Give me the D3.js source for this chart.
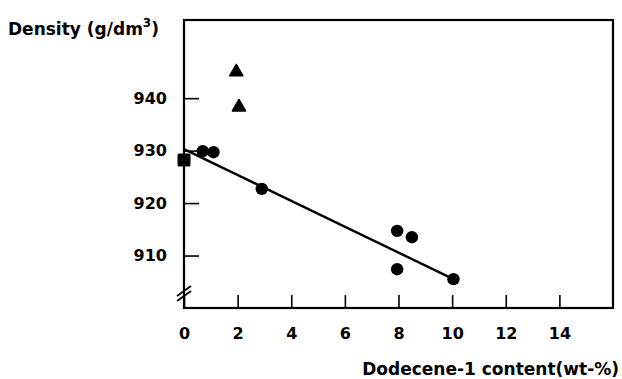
<html>
<head>
<script src="https://d3js.org/d3.v7.min.js"></script>
<style>
	body { margin: 0; background: white; }
	text { font-family: "DejaVu Sans", sans-serif; font-weight: bold; fill: black; }
</style>
</head>
<body>
<svg id="chart" width="622" height="379"></svg>
<script>

// Data
var circleX = [0.7, 1.1, 2.9, 7.95, 8.5, 7.95, 10.05];
var circleY = [929.9, 929.7, 922.7, 914.7, 913.5, 907.4, 905.5];
var triangleX = [1.95, 2.05];
var triangleY = [945.0, 938.3];
var squareX = [0];
var squareY = [928.2];
var fitX = [0, 10.05];
var fitY = [930.3, 905.5];
var xTicks = [0, 2, 4, 6, 8, 10, 12, 14];
var yTicks = [910, 920, 930, 940];

var svg = d3.select("#chart");

// Plot box
var mLeft = 184, mRight = 613, mTop = 20, mBottom = 308;

var x = d3.scaleLinear().domain([0, 16]).range([mLeft, mRight]);
var y = d3.scaleLinear().domain([900, 954.9]).range([mBottom, mTop]);

// Frame
svg.append("rect")
	.attr("x", mLeft).attr("y", mTop)
	.attr("width", mRight - mLeft).attr("height", mBottom - mTop)
	.style("fill", "none").style("stroke", "black").style("stroke-width", 2.2);

// X axis ticks (inward) and labels
svg.append("g")
	.attr("transform", "translate(0," + mBottom + ")")
	.call(d3.axisBottom(x).tickValues(xTicks).tickSize(-13).tickPadding(20).tickFormat(d3.format("d")))
	.call(function(g) { g.select(".domain").remove(); })
	.call(function(g) {
		g.selectAll("line").style("stroke-width", 1.6);
		g.selectAll("text").style("font-size", "16px").style("font-family", "DejaVu Sans").style("font-weight", "bold");
	});

// Y axis ticks (inward) and labels
svg.append("g")
	.attr("transform", "translate(" + mLeft + ",0)")
	.call(d3.axisLeft(y).tickValues(yTicks).tickSize(-15).tickPadding(17).tickFormat(d3.format("d")))
	.call(function(g) { g.select(".domain").remove(); })
	.call(function(g) {
		g.selectAll("line").style("stroke-width", 1.6);
		g.selectAll("text").style("font-size", "16px").style("font-family", "DejaVu Sans").style("font-weight", "bold");
	});

// Axis break marks
[0, 5].forEach(function(off) {
	svg.append("line")
		.attr("x1", mLeft - 7).attr("y1", y(900) - 12 + off)
		.attr("x2", mLeft + 7).attr("y2", y(900) - 22 + off)
		.style("stroke", "black").style("stroke-width", 1.8);
});

// Regression line
svg.append("line")
	.attr("x1", x(fitX[0])).attr("y1", y(fitY[0]))
	.attr("x2", x(fitX[1])).attr("y2", y(fitY[1]))
	.style("stroke", "black").style("stroke-width", 2.4);

// Circles
svg.selectAll(".pt")
	.data(d3.zip(circleX, circleY))
	.enter().append("circle")
		.attr("class", "pt")
		.attr("cx", function(d) { return x(d[0]); })
		.attr("cy", function(d) { return y(d[1]); })
		.attr("r", 6.2)
		.style("fill", "black");

// Triangles
svg.selectAll(".tri")
	.data(d3.zip(triangleX, triangleY))
	.enter().append("path")
		.attr("class", "tri")
		.attr("transform", function(d) { return "translate(" + x(d[0]) + "," + y(d[1]) + ")"; })
		.attr("d", d3.symbol().type(d3.symbolTriangle).size(75))
		.style("fill", "black")
		.style("stroke", "black").style("stroke-width", 1.5).style("stroke-linejoin", "round");

// Squares
svg.selectAll(".sq")
	.data(d3.zip(squareX, squareY))
	.enter().append("rect")
		.attr("class", "sq")
		.attr("x", function(d) { return x(d[0]) - 6.5; })
		.attr("y", function(d) { return y(d[1]) - 6.5; })
		.attr("width", 13).attr("height", 13)
		.attr("rx", 1.5)
		.style("fill", "black");

// Axis titles
var ytitle = svg.append("text")
	.attr("x", 8).attr("y", 35)
	.style("font-size", "17px");
ytitle.append("tspan").text("Density (g/dm");
ytitle.append("tspan").attr("dy", -8).style("font-size", "12px").text("3");
ytitle.append("tspan").attr("dy", 8).text(")");

svg.append("text")
	.attr("x", 619).attr("y", 375)
	.attr("text-anchor", "end")
	.style("font-size", "17px")
	.text("Dodecene-1 content(wt-%)");

</script>
</body>
</html>
